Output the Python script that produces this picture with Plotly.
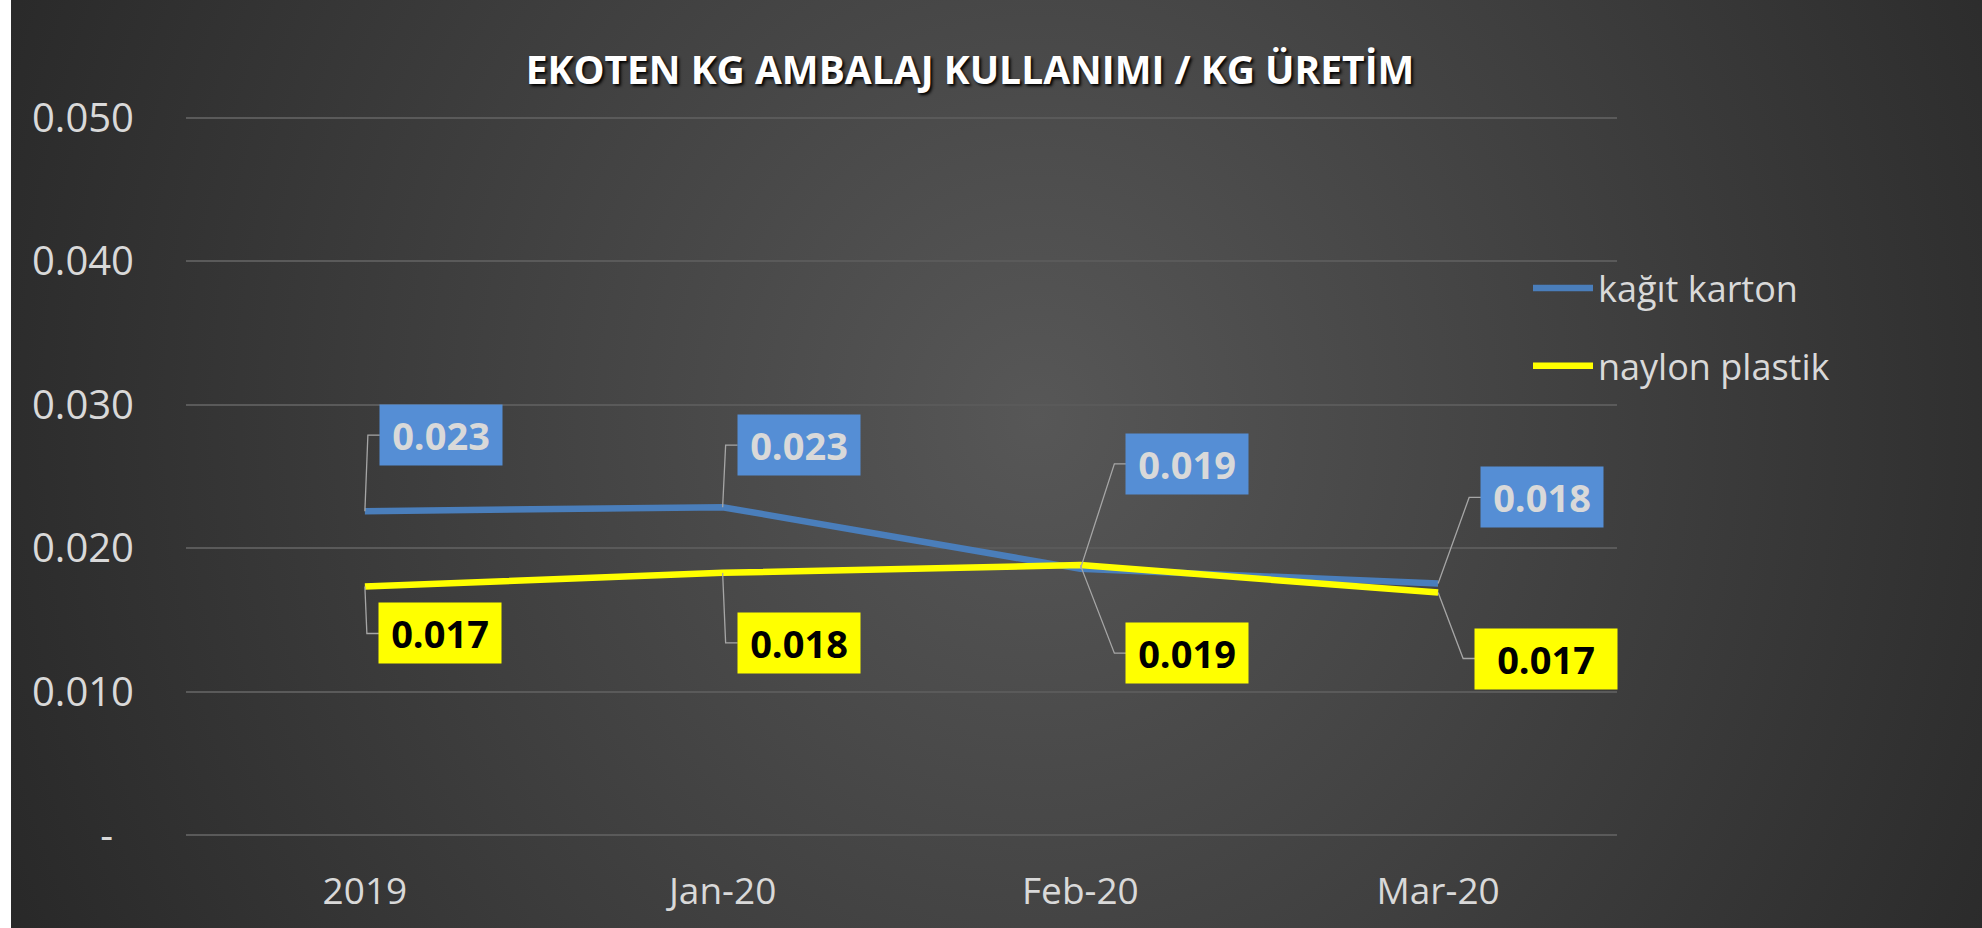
import base64
import plotly.graph_objects as go

categories = ["2019", "Jan-20", "Feb-20", "Mar-20"]
kagit_karton = [0.02258, 0.02286, 0.01856, 0.01754]
naylon_plastik = [0.01733, 0.01828, 0.01882, 0.01691]
y_tick_vals = [0, 0.01, 0.02, 0.03, 0.04, 0.05]
y_tick_text = ["-\u00a0\u00a0", "0.010", "0.020", "0.030", "0.040", "0.050"]

title_text = "EKOTEN KG AMBALAJ KULLANIMI / KG ÜRETİM"
name_kagit = "kağıt karton"
name_naylon = "naylon plastik"

# callout box offsets (pixels, box centre relative to the point; +y is down)
kagit_offsets = [(76, -76), (76, -62), (107, -105), (104, -86)]
naylon_offsets = [(75, 47), (76, 70), (107, 88), (108, 66)]
naylon_box_widths = [112, 112, 112, 132]

W, H = 1982, 928
PAD = 0.00028
ML, MR = 186, 365
MT, MB = 114, 89
PW, PH = W - ML - MR, H - MT - MB

BLUE_LINE = "#4a7ebb"
BLUE_BOX = "#558ed5"
YELLOW = "#ffff00"
LEADER = "#a6a6a6"
FONT = "Open Sans"
ELBOW = 12

svg = f'''<svg xmlns="http://www.w3.org/2000/svg" width="1971" height="928" viewBox="0 0 1971 928" preserveAspectRatio="none">
<defs><radialGradient id="g" cx="0.52" cy="0.45" r="1" gradientTransform="translate(0.52,0.45) scale(0.6,1.4) translate(-0.52,-0.45)">
<stop offset="0" stop-color="#575757"/><stop offset="1" stop-color="#262626"/></radialGradient></defs>
<rect width="1971" height="928" fill="url(#g)"/></svg>'''
svg_uri = "data:image/svg+xml;base64," + base64.b64encode(svg.encode()).decode()

fig = go.Figure()
fig.add_trace(go.Scatter(x=categories, y=kagit_karton, mode="lines", name=name_kagit,
                         line=dict(color=BLUE_LINE, width=6.5), legendgroup="a"))
fig.add_trace(go.Scatter(x=categories, y=naylon_plastik, mode="lines", name=name_naylon,
                         line=dict(color=YELLOW, width=6.5), legendgroup="b"))

annotations = []
shapes = []


def add_callouts(values, offsets, widths, box_color, text_color):
    for i, (v, (ax, ay), bw) in enumerate(zip(values, offsets, widths)):
        half = bw / 2 + 5
        ex = ax - half - ELBOW
        shapes.append(dict(type="path", xref="x", yref="y", xsizemode="pixel", ysizemode="pixel",
                           xanchor=i, yanchor=v,
                           path=f"M 0,0 L {ex},{-ay} L {ax - half},{-ay}",
                           line=dict(color=LEADER, width=1.3), layer="above"))
        annotations.append(dict(x=i, y=v, xref="x", yref="y", text=f"<b>{v:.3f}</b>",
                                showarrow=False, xshift=ax, yshift=-ay,
                                xanchor="center", yanchor="middle", bgcolor=box_color,
                                width=bw, height=50, borderpad=5,
                                font=dict(family=FONT, size=38, color=text_color)))


add_callouts(kagit_karton, kagit_offsets, [112] * 4, BLUE_BOX, "#d9d9d9")
add_callouts(naylon_plastik, naylon_offsets, naylon_box_widths, YELLOW, "#000000")

fig.update_layout(
    width=W, height=H,
    margin=dict(l=ML, r=MR, t=MT, b=MB),
    paper_bgcolor="#ffffff",
    plot_bgcolor="rgba(0,0,0,0)",
    title=dict(text=f"<b>{title_text}</b>", x=970 / W, xref="container", xanchor="center",
               y=1 - 70 / H, yref="container", yanchor="middle",
               font=dict(family=FONT, size=39, color="#ffffff", shadow="2px 2px 3px #000000")),
    images=[dict(source=svg_uri, xref="paper", yref="paper",
                 x=(11 - ML) / PW, y=1 + MT / PH, sizex=1971 / PW, sizey=H / PH,
                 xanchor="left", yanchor="top", sizing="stretch", layer="below")],
    xaxis=dict(type="category", range=[-0.5, 3.5], showgrid=False, zeroline=False,
               showline=False, ticks="", ticklabelstandoff=27,
               tickfont=dict(family=FONT, size=37, color="#d9d9d9")),
    yaxis=dict(range=[-PAD, 0.05 + PAD], tickvals=y_tick_vals, ticktext=y_tick_text,
               showgrid=True, gridcolor="#5a5a5a", gridwidth=2,
               zeroline=False,
               showline=False, ticks="", ticklabelstandoff=51,
               tickfont=dict(family=FONT, size=40, color="#d9d9d9")),
    legend=dict(x=(1528 - ML) / PW, xanchor="left", y=1 - (258 - MT) / PH, yanchor="top",
                bgcolor="rgba(0,0,0,0)", tracegroupgap=28, itemwidth=60,
                font=dict(family=FONT, size=36, color="#d9d9d9")),
    annotations=annotations,
    shapes=shapes,
    showlegend=True,
)

fig.write_html("out.html", config={"displayModeBar": False},
               post_script="document.body.style.margin='0';")
